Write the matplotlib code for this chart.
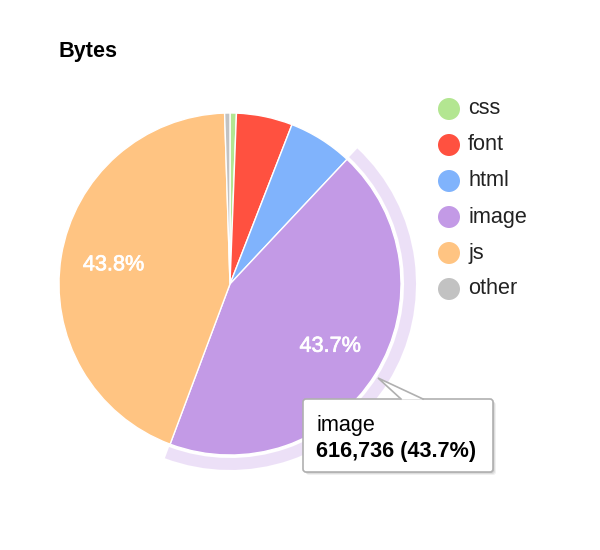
import matplotlib
matplotlib.use("Agg")
import matplotlib.pyplot as plt
from matplotlib.patches import Wedge, FancyBboxPatch, Polygon, Circle
import matplotlib.patheffects as pe
import numpy as np

# ---- data ----
categories = ["css", "font", "html", "image", "js", "other"]
byte_values = [8500, 74800, 86000, 616736, 618200, 7100]
colors = ["#b3e691", "#ff5140", "#80b3fc", "#c39ae6", "#ffc482", "#c2c2c2"]
title = "Bytes"
hover_index = 3

W, H = 600, 550
plt.rcParams['font.family'] = ['Liberation Sans', 'DejaVu Sans']
FS = 15.6

fig = plt.figure(figsize=(W / 100, H / 100), dpi=100)
ax = fig.add_axes([0, 0, 1, 1])

def Y(y):
    return H - y

cx, cy, R = 230, Y(284), 171
total = sum(byte_values)

wedges, _ = ax.pie(byte_values, colors=colors, startangle=90, counterclock=False,
                   center=(cx, cy), radius=R,
                   wedgeprops=dict(edgecolor="white", linewidth=1))

# halo around hovered slice
w = wedges[hover_index]
ax.add_patch(Wedge((cx, cy), R + 15, w.theta1, w.theta2, width=12,
                   facecolor=colors[hover_index], alpha=0.3, edgecolor="none"))

# data labels for the two big slices
for i, wd in enumerate(wedges):
    pct = byte_values[i] / total * 100
    if pct < 20:
        continue
    mid = np.deg2rad((wd.theta1 + wd.theta2) / 2)
    d = R * 0.69
    ax.text(cx + d * np.cos(mid), cy + d * np.sin(mid), f"{pct:.1f}%",
            ha="center", va="center", color="white", fontsize=FS,
            path_effects=[pe.withStroke(linewidth=0.5, foreground="white")])

# title
ax.text(59, Y(52), title, ha="left", va="center", fontsize=FS, fontweight="bold",
        color="black")

# legend
for i, name in enumerate(categories):
    ly = Y(109 + i * 36)
    ax.add_patch(Circle((449, ly), 11, facecolor=colors[i], edgecolor="none"))
    ax.text(468, ly, name, ha="left", va="center", fontsize=FS, color="#222222")

# tooltip
bx0, by0, bx1, by1 = 303, 399, 493, 472
for k, a in [(3, 0.06), (2, 0.08), (1, 0.1)]:
    ax.add_patch(FancyBboxPatch((bx0 + k, Y(by1) - k), bx1 - bx0, by1 - by0,
                                boxstyle="round,pad=0,rounding_size=3",
                                facecolor="black", alpha=a, edgecolor="none", zorder=5))
ax.add_patch(FancyBboxPatch((bx0, Y(by1)), bx1 - bx0, by1 - by0,
                            boxstyle="round,pad=0,rounding_size=3",
                            facecolor="white", edgecolor="#b0b0b0", linewidth=1.2, zorder=6))
ax.add_patch(Polygon([(378, Y(378)), (401, Y(399.6)), (423, Y(399.6))], closed=True,
                     facecolor="white", edgecolor="none", zorder=7))
ax.plot([401, 378, 423], [Y(399), Y(378), Y(399)], color="#b0b0b0", linewidth=1.2,
        zorder=7, solid_joinstyle="miter")

hv = byte_values[hover_index]
ax.text(316, Y(425), categories[hover_index], ha="left", va="center", fontsize=FS,
        color="black", zorder=8)
ax.text(316, Y(452), f"{hv:,} ({hv / total * 100:.1f}%)", ha="left", va="center",
        fontsize=FS, fontweight="bold", color="black", zorder=8)

ax.set_xlim(0, W)
ax.set_ylim(0, H)
ax.set_aspect("equal")
ax.axis("off")

fig.savefig("out.png", dpi=100)
